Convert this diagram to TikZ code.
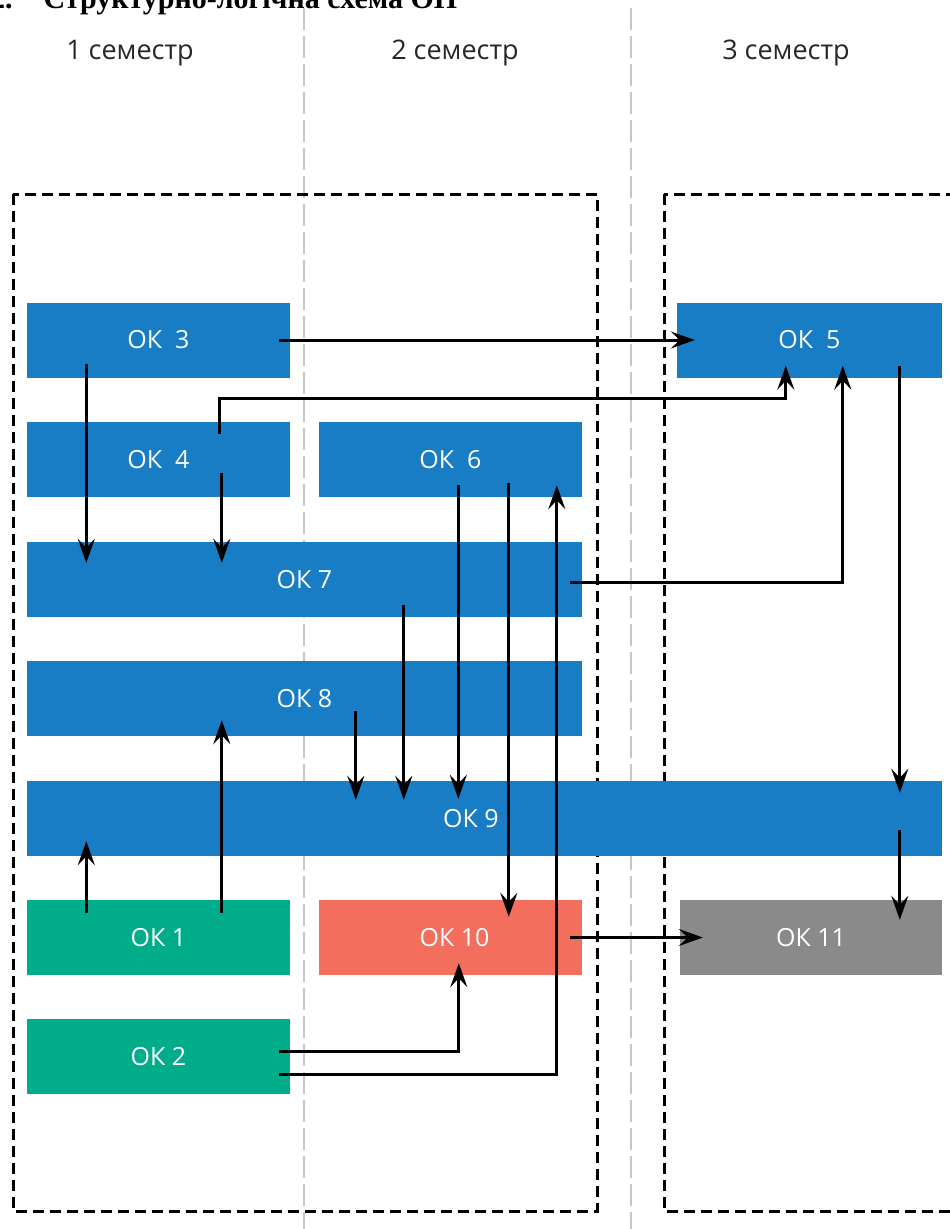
\documentclass[tikz,border=0pt]{standalone}
\usepackage{fontspec}
\usepackage{tikz}
\usetikzlibrary{arrows.meta}

\newfontfamily\labelfont{Open Sans}
\newfontfamily\titlefont{Liberation Serif}

\definecolor{okblue}{RGB}{24,125,196}
\definecolor{okgreen}{RGB}{0,172,138}
\definecolor{okred}{RGB}{243,110,92}
\definecolor{okgray}{RGB}{138,138,138}

\begin{document}
\begin{tikzpicture}[
        x=1pt, y=-1pt,
        ok/.style={rectangle, fill=okblue, text=white, inner sep=0pt,
            minimum width=263pt, minimum height=75pt,
            font=\labelfont\fontsize{25}{29}\selectfont},
        arr/.style={line width=3pt, -{Stealth[length=24pt, width=17pt, inset=9pt]}},
        frame/.style={line width=3pt, dash pattern=on 11pt off 6pt},
        divider/.style={line width=1.5pt, black!22, dash pattern=on 22pt off 6pt},
        sem/.style={font=\labelfont\fontsize{27}{31}\selectfont, text=black!85}
    ]
        \useasboundingbox (0,0) rectangle (950,1229);
        \clip (0,0) rectangle (950,1229);

        % Heading, cut off by the top edge
        \node[anchor=base west, inner sep=0pt, font=\titlefont\bfseries\fontsize{30}{34}\selectfont] (title) at (-10,8) {2.\hspace{31pt}Структурно-логічна схема ОП};

        % Semester columns
        \draw[divider] (304,8) -- (304,1229);
        \draw[divider] (631,8) -- (631,1229);
        \node[sem] (sem1) at (130,53) {1 семестр};
        \node[sem] (sem2) at (455,53) {2 семестр};
        \node[sem] (sem3) at (786,53) {3 семестр};

        % Dashed frames
        \draw[frame] (13,194) rectangle (597,1211);
        \draw[frame] (664,194) rectangle (975,1211);

        % Components
        \node[ok] (ok3) at (158.5,340) {ОК~~3};
        \node[ok, minimum width=265pt] (ok5) at (809.5,340) {ОК~~5};
        \node[ok] (ok4) at (158.5,459.5) {ОК~~4};
        \node[ok] (ok6) at (450.5,459.5) {ОК~~6};
        \node[ok, minimum width=555pt] (ok7) at (304.5,579.5) {ОК 7};
        \node[ok, minimum width=555pt] (ok8) at (304.5,698.5) {ОК 8};
        \node[ok, minimum width=915pt] (ok9) at (484.5,818.5) {\hspace{-27pt}ОК 9};
        \node[ok, fill=okgreen] (ok1) at (158.5,937.5) {ОК 1};
        \node[ok, fill=okred] (ok10) at (450.5,937.5) {\hspace{8pt}ОК 10};
        \node[ok, fill=okgray, minimum width=262pt] (ok11) at (811,937.5) {ОК 11};
        \node[ok, fill=okgreen] (ok2) at (158.5,1056.5) {ОК 2};

        % Links
        \draw[arr] ([xshift=-11pt]ok3.east) -- ([xshift=18pt]ok5.west);
        \draw[arr] ([shift={(59.5pt,14pt)}]ok3.south west) -- ([shift={(59.5pt,-21pt)}]ok7.north west);
        \draw[arr] ([shift={(193pt,-12pt)}]ok4.north west) -- ++(0,-35) -| ([shift={(109pt,12pt)}]ok5.south west);
        \draw[arr] ([shift={(195pt,24pt)}]ok4.south west) -- ([shift={(195pt,-21pt)}]ok7.north west);
        \draw[arr] ([shift={(139.5pt,12pt)}]ok6.south west) -- ([shift={(431.5pt,-18pt)}]ok9.north west);
        \draw[arr] ([shift={(190pt,14pt)}]ok6.south west) -- ([shift={(190pt,-17pt)}]ok10.north west);
        \draw[arr] ([xshift=-12pt,yshift=-3pt]ok7.east) -| ([shift={(166pt,12pt)}]ok5.south west);
        \draw[arr] ([shift={(377pt,12pt)}]ok7.south west) -- ([shift={(377pt,-19pt)}]ok9.north west);
        \draw[arr] ([shift={(329pt,25pt)}]ok8.south west) -- ([shift={(329pt,-19pt)}]ok9.north west);
        \draw[arr] ([shift={(223pt,12pt)}]ok5.south west) -- ([shift={(873pt,-12pt)}]ok9.north west);
        \draw[arr] ([shift={(873pt,26pt)}]ok9.south west) -- ([shift={(220pt,-20pt)}]ok11.north west);
        \draw[arr] ([shift={(59.5pt,-13pt)}]ok1.north west) -- ([shift={(59.5pt,15pt)}]ok9.south west);
        \draw[arr] ([shift={(195pt,-13pt)}]ok1.north west) -- ([shift={(195pt,16pt)}]ok8.south west);
        \draw[arr] ([xshift=-12pt]ok10.east) -- ([xshift=23pt]ok11.west);
        \draw[arr] ([shift={(-11pt,5.5pt)}]ok2.east) -| ([shift={(140pt,12pt)}]ok10.south west);
        \draw[arr] ([shift={(-11pt,-17.5pt)}]ok2.east) -| ([shift={(238pt,12pt)}]ok6.south west);
    \end{tikzpicture}
\end{document}
